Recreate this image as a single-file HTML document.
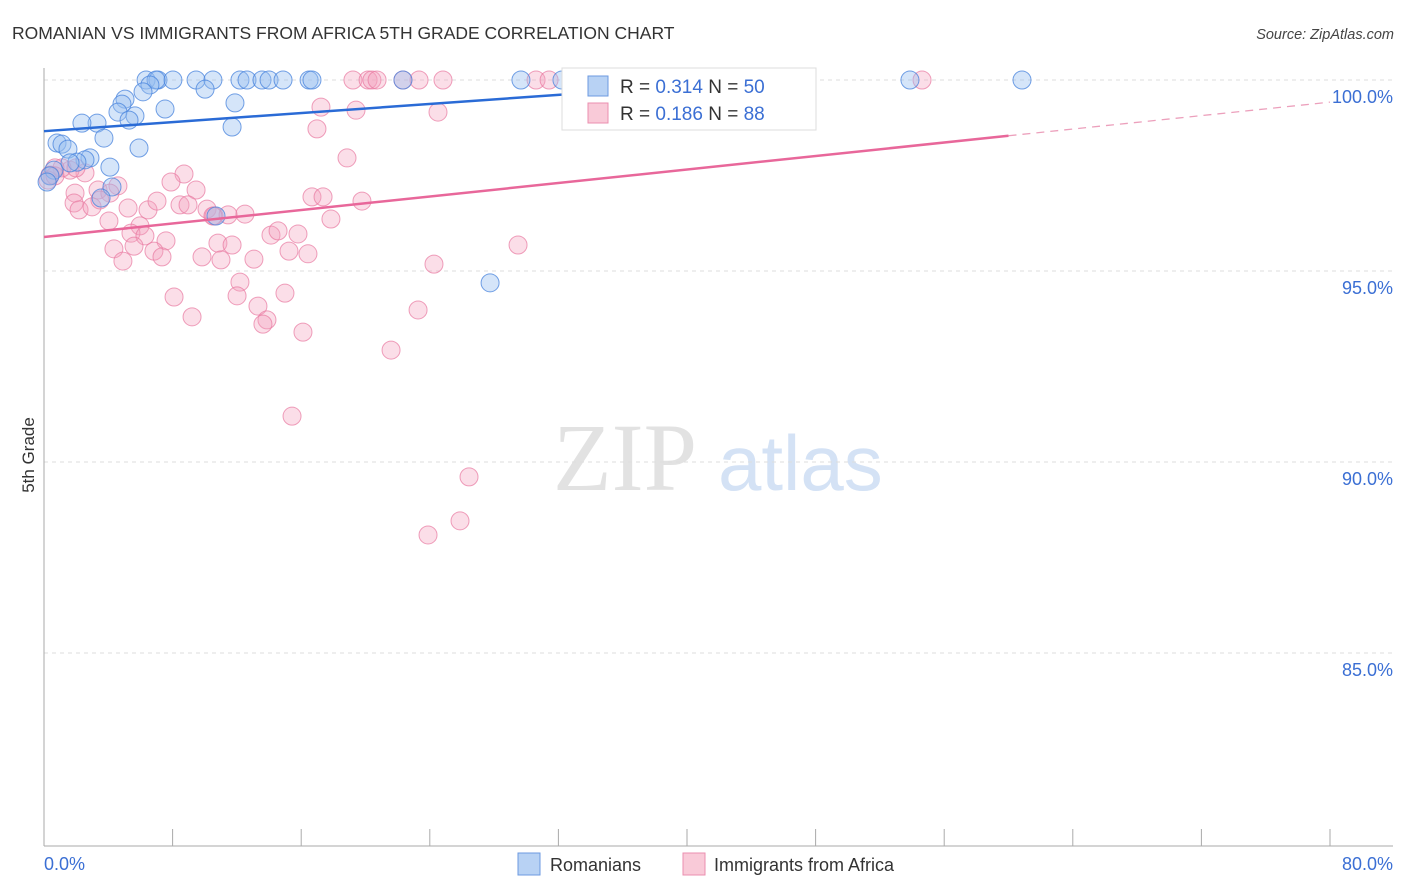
<!DOCTYPE html>
<html><head><meta charset="utf-8"><style>
body{margin:0;background:#fff;font-family:"Liberation Sans",sans-serif;}
svg{display:block}
</style></head><body>
<svg id="chart" width="1406" height="892">
<text x="12" y="39" font-size="17.5" fill="#333">ROMANIAN VS IMMIGRANTS FROM AFRICA 5TH GRADE CORRELATION CHART</text>
<text x="1394" y="39" font-size="14.5" fill="#444" font-style="italic" text-anchor="end">Source: ZipAtlas.com</text>
<g>
<text x="553" y="490" font-family="Liberation Serif,serif" font-size="96" fill="#e2e2e2">ZIP</text>
<text x="718" y="490" font-size="78" fill="#d4e2f5">atlas</text>
</g>
<g id="grid"></g>
<g id="axes"></g>
<g id="marks"></g>
<g id="lines"></g>
<text transform="translate(34,455) rotate(-90)" font-size="17" fill="#333" text-anchor="middle">5th Grade</text>
<g>
<rect x="562" y="68" width="254" height="62" fill="#fff" stroke="#ddd"/>
<rect x="588" y="76" width="20" height="20" fill="#b8d2f4" stroke="#6c9ae0"/>
<rect x="588" y="103" width="20" height="20" fill="#f9cad8" stroke="#eb8faf"/>
<text x="620" y="93" font-size="19" fill="#333">R = <tspan fill="#3b6fd4">0.314</tspan>   N = <tspan fill="#3b6fd4">50</tspan></text>
<text x="620" y="120" font-size="19" fill="#333">R = <tspan fill="#3b6fd4">0.186</tspan>   N = <tspan fill="#3b6fd4">88</tspan></text>
</g>
<g>
<rect x="518" y="853" width="22" height="22" fill="#b8d2f4" stroke="#6c9ae0"/>
<text x="550" y="871" font-size="18" fill="#333">Romanians</text>
<rect x="683" y="853" width="22" height="22" fill="#f9cad8" stroke="#eb8faf"/>
<text x="714" y="871" font-size="18" fill="#333">Immigrants from Africa</text>
</g>
</svg>
<script>
const blueX=[6.35,7.09,8.02,9.46,10.51,12.19,12.63,13.56,14.0,14.87,16.49,16.67,22.33,29.67,32.22,53.87,60.84,6.97,6.59,10.02,6.16,5.04,4.85,11.88,7.53,4.6,5.66,5.29,3.3,2.36,11.7,3.73,5.91,0.81,1.12,1.49,2.86,2.55,2.05,4.1,4.23,3.55,0.62,0.37,10.7,27.75,0.19,32.97,34.9,1.62];
const blueY=[100,100,100,100,100,100,100,100,100,100,100,100,100,100,100,100,100,100,99.87,99.76,99.69,99.5,99.37,99.4,99.24,99.16,99.06,98.95,98.87,98.87,98.77,98.48,98.22,98.35,98.32,98.19,97.96,97.91,97.85,97.72,97.2,96.91,97.64,97.49,96.44,94.69,97.33,100,100,97.83];
const pinkX=[19.22,20.16,20.4,20.72,22.33,23.33,24.82,30.61,31.42,33.03,33.34,35.83,54.62,17.23,19.41,24.51,16.98,18.85,8.71,7.9,9.46,4.6,3.36,4.1,2.55,1.62,1.12,1.99,0.68,0.37,1.93,0.25,1.87,2.18,2.99,3.48,5.23,6.47,7.03,8.46,8.96,10.14,10.58,11.45,12.5,16.67,17.36,17.85,19.78,4.04,5.97,5.41,6.28,5.6,7.59,6.84,7.34,4.35,4.91,10.82,11.7,14.12,14.56,15.8,15.24,16.42,13.06,11.01,9.83,12.19,12.01,8.09,9.21,13.31,13.87,13.62,14.99,16.11,23.27,24.26,29.49,21.59,15.43,26.44,25.88,23.89,10.51,0.68];
const pinkY=[100,100,100,100,100,100,100,100,100,100,100,100,100,99.29,99.21,99.16,98.72,97.96,97.54,97.33,97.12,97.23,97.12,97.04,97.57,97.64,97.7,97.7,97.7,97.51,97.04,97.38,96.78,96.6,96.68,96.86,96.65,96.6,96.83,96.73,96.73,96.62,96.44,96.47,96.49,96.94,96.94,96.36,96.83,96.31,96.18,95.99,95.92,95.65,95.79,95.52,95.37,95.58,95.26,95.73,95.68,95.94,96.05,95.97,95.52,95.45,95.31,95.29,95.37,94.71,94.35,94.32,93.8,94.08,93.72,93.61,94.42,93.4,93.98,95.18,95.68,92.93,91.2,89.61,88.46,88.09,96.44,97.49];
const yTicks=[100,95,90,85];
const yTickLabels=["100.0%","95.0%","90.0%","85.0%"];
const xTicks=[0,8,16,24,32,40,48,56,64,72,80];
const blueTrend=[[0,98.66],[35,99.70]];
const pinkTrendSolid=[[0,95.89],[60,98.54]];
const pinkTrendDash=[[60,98.54],[80,99.42]];

const NS="http://www.w3.org/2000/svg";
const xs=v=>44+v*16.075;
const ys=v=>80+(100-v)*38.2;
function mk(tag,attrs,parent){const e=document.createElementNS(NS,tag);for(const k in attrs)e.setAttribute(k,attrs[k]);document.getElementById(parent).appendChild(e);return e;}
yTicks.forEach((t,i)=>{
  const g=mk('line',{x1:44,x2:1393,y1:ys(t),y2:ys(t),stroke:'#ddd','stroke-dasharray':'4,4'},'grid');
  
  
  const l=mk('text',{x:1393,y:ys(t)+23,'font-size':18,fill:'#3b6fd4','text-anchor':'end'},'axes');
  l.textContent=yTickLabels[i];
  
  
});
const ax=mk('line',{x1:44,x2:44,y1:68,y2:846,stroke:'#aaa'},'axes');


const bx=mk('line',{x1:44,x2:1393,y1:846,y2:846,stroke:'#aaa'},'axes');


xTicks.forEach(t=>{
  const e=mk('line',{x1:xs(t),x2:xs(t),y1:829,y2:846,stroke:'#aaa'},'axes');
  
  
});
const x0=mk('text',{x:44,y:870,'font-size':18,fill:'#3b6fd4'},'axes');x0.textContent=xTicks[0].toFixed(1)+'%';


const x1=mk('text',{x:1393,y:870,'font-size':18,fill:'#3b6fd4','text-anchor':'end'},'axes');x1.textContent=xTicks[xTicks.length-1].toFixed(1)+'%';


pinkX.forEach((x,i)=>{
  const c=mk('circle',{cx:xs(x),cy:ys(pinkY[i]),r:9,fill:'rgba(244,160,188,0.35)',stroke:'rgba(232,120,160,0.7)','stroke-width':1},'marks');
  
  
});
blueX.forEach((x,i)=>{
  const c=mk('circle',{cx:xs(x),cy:ys(blueY[i]),r:9,fill:'rgba(150,190,240,0.4)',stroke:'rgba(70,130,220,0.75)','stroke-width':1},'marks');
  
  
});
function ln(p,col,w,dash,name){
  const e=mk('line',{x1:xs(p[0][0]),y1:ys(p[0][1]),x2:xs(p[1][0]),y2:ys(p[1][1]),stroke:col,'stroke-width':w},'lines');
  if(dash)e.setAttribute('stroke-dasharray',dash);
  
  
}
ln(blueTrend,'#2a6bd6',2.5,null,'trend-romanians');
ln(pinkTrendSolid,'#e8679a',2.5,null,'trend-africa');
ln(pinkTrendDash,'#eca0bc',1.3,'8,6','trend-africa-extension');
</script>
</body></html>
